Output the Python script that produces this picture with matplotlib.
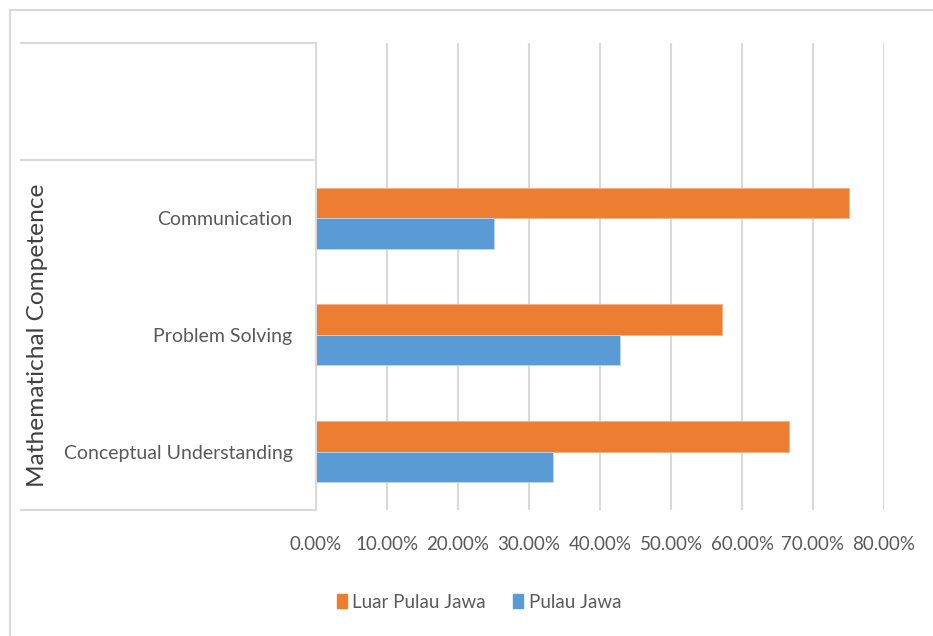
import matplotlib
matplotlib.use("Agg")
from matplotlib import pyplot as plt
from matplotlib import font_manager
from matplotlib.lines import Line2D
from matplotlib.patches import Patch
import numpy as np

# Data
categories = ["Conceptual Understanding", "Problem Solving", "Communication", ""]
group_label = "Mathematichal Competence"
luar_pulau_jawa = [0.6667, 0.5714, 0.75]
pulau_jawa = [0.3333, 0.4286, 0.25]
x_ticks = [0.0, 0.1, 0.2, 0.3, 0.4, 0.5, 0.6, 0.7, 0.8]
x_tick_labels = ["0.00%", "10.00%", "20.00%", "30.00%", "40.00%", "50.00%", "60.00%", "70.00%", "80.00%"]

# Calibri-like look: a narrow humanist sans if there is one
names = {f.name for f in font_manager.fontManager.ttflist}
font = "Lato" if "Lato" in names else "DejaVu Sans"
plt.rcParams["font.family"] = [font, "DejaVu Sans"]
fs = 13.5

orange = "#ED7D31"
blue = "#5B9BD5"
grid_col = "#D9D9D9"
text_col = "#595959"

W, H = 933, 636
fig = plt.figure(figsize=(W / 100, H / 100), dpi=100)
ax = fig.add_axes([316 / W, 1 - 510 / H, 568 / W, 467 / H])

y = np.arange(len(luar_pulau_jawa))
bh = 0.261
ax.barh(y + bh / 2, luar_pulau_jawa, height=bh, color=orange, edgecolor="#F4B183", linewidth=0.6)
ax.barh(y - bh / 2, pulau_jawa, height=bh, color=blue, edgecolor="#BDD7EE", linewidth=0.6)

ax.set_xlim(0, 0.8)
ax.set_ylim(-0.5, len(categories) - 0.5)
ax.set_xticks(x_ticks)
ax.set_xticklabels(x_tick_labels)
ax.set_yticks(np.arange(len(categories)))
ax.set_yticklabels(categories)
ax.tick_params(axis="x", length=0, pad=19, labelsize=fs, labelcolor=text_col)
ax.tick_params(axis="y", length=0, pad=17, labelsize=14, labelcolor=text_col)

ax.grid(axis="x", color=grid_col, linewidth=1.5)
ax.set_axisbelow(True)
for s in ["top", "right", "bottom"]:
    ax.spines[s].set_visible(False)
ax.spines["left"].set_color(grid_col)
ax.spines["left"].set_linewidth(1.5)

# multi-level category axis lines
tr = ax.get_yaxis_transform()
x0 = (21 - 316) / 568
for yy in [-0.5, 2.5, 3.5]:
    ax.plot([x0, 0], [yy, yy], color=grid_col, linewidth=1.5, transform=tr, clip_on=False)
ax.text((38 - 316) / 568, 1.0, group_label, transform=tr, rotation=90,
        ha="center", va="center", fontsize=17.6, color="#404040")

# outer chart border (cropped at right and bottom)
fig.add_artist(Line2D([10 / W, 10 / W], [0, 1 - 10 / H], color=grid_col, linewidth=1.5))
fig.add_artist(Line2D([10 / W, 1], [1 - 10 / H, 1 - 10 / H], color=grid_col, linewidth=1.5))

handles = [Patch(color=orange), Patch(color=blue)]
fig.legend(handles, ["Luar Pulau Jawa", "Pulau Jawa"], loc="center",
           bbox_to_anchor=(479 / W, 1 - 602 / H), ncol=2, frameon=False,
           fontsize=fs, labelcolor=text_col, handlelength=0.53, handleheight=0.85,
           handletextpad=0.3, columnspacing=1.45)

fig.savefig("out.png", dpi=100)
